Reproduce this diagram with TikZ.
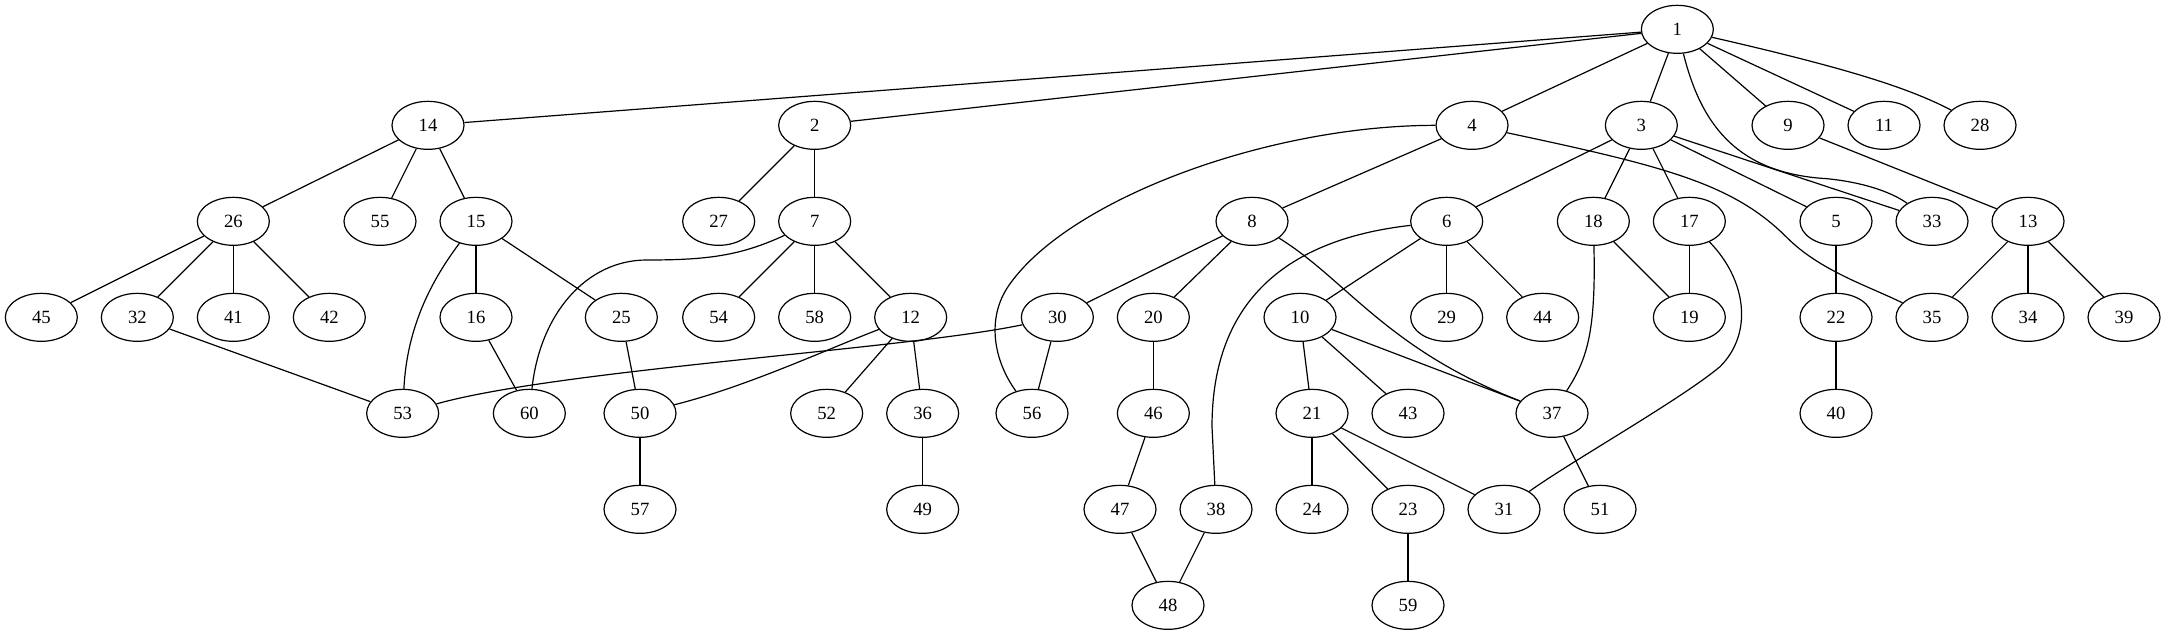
\documentclass[tikz,border=0pt]{standalone}
\usepackage{fontspec}
\setmainfont{Liberation Serif}
\usetikzlibrary{shapes.geometric}
\tikzset{
  nd/.style={draw, ellipse, line width=0.9pt, minimum width=54pt, minimum height=36pt, inner sep=0pt, font=\fontsize{14}{16}\selectfont},
  ed/.style={line width=0.9pt}
}
\begin{document}
\begin{tikzpicture}[x=1pt,y=1pt]
\fill[white] (0,0) rectangle (1623.75,-476.25);
\useasboundingbox (0,0) rectangle (1623.75,-476.25);
% rank 0
\node[nd] (n1) at (1258,-22) {1};
% rank 1
\node[nd] (n14) at (321,-94) {14};
\node[nd] (n2) at (611,-94) {2};
\node[nd] (n4) at (1104,-94) {4};
\node[nd] (n3) at (1231,-94) {3};
\node[nd] (n9) at (1341,-94) {9};
\node[nd] (n11) at (1413,-94) {11};
\node[nd] (n28) at (1485,-94) {28};
% rank 2
\node[nd] (n26) at (175,-166) {26};
\node[nd] (n55) at (285,-166) {55};
\node[nd] (n15) at (357,-166) {15};
\node[nd] (n27) at (539,-166) {27};
\node[nd] (n7) at (611,-166) {7};
\node[nd] (n8) at (939,-166) {8};
\node[nd] (n6) at (1085,-166) {6};
\node[nd] (n18) at (1195,-166) {18};
\node[nd] (n17) at (1267,-166) {17};
\node[nd] (n5) at (1377,-166) {5};
\node[nd] (n33) at (1449,-166) {33};
\node[nd] (n13) at (1521,-166) {13};
% rank 3
\node[nd] (n45) at (31,-238) {45};
\node[nd] (n32) at (103,-238) {32};
\node[nd] (n41) at (175,-238) {41};
\node[nd] (n42) at (247,-238) {42};
\node[nd] (n16) at (357,-238) {16};
\node[nd] (n25) at (466,-238) {25};
\node[nd] (n54) at (539,-238) {54};
\node[nd] (n58) at (611,-238) {58};
\node[nd] (n12) at (683,-238) {12};
\node[nd] (n30) at (793,-238) {30};
\node[nd] (n20) at (865,-238) {20};
\node[nd] (n10) at (975,-238) {10};
\node[nd] (n29) at (1085,-238) {29};
\node[nd] (n44) at (1157,-238) {44};
\node[nd] (n19) at (1267,-238) {19};
\node[nd] (n22) at (1377,-238) {22};
\node[nd] (n35) at (1449,-238) {35};
\node[nd] (n34) at (1521,-238) {34};
\node[nd] (n39) at (1593,-238) {39};
% rank 4
\node[nd] (n53) at (302,-310) {53};
\node[nd] (n60) at (397,-310) {60};
\node[nd] (n50) at (480,-310) {50};
\node[nd] (n52) at (620,-310) {52};
\node[nd] (n36) at (692,-310) {36};
\node[nd] (n56) at (774,-310) {56};
\node[nd] (n46) at (865,-310) {46};
\node[nd] (n21) at (984,-310) {21};
\node[nd] (n43) at (1056,-310) {43};
\node[nd] (n37) at (1164,-310) {37};
\node[nd] (n40) at (1377,-310) {40};
% rank 5
\node[nd] (n57) at (480,-382) {57};
\node[nd] (n49) at (692,-382) {49};
\node[nd] (n47) at (840,-382) {47};
\node[nd] (n38) at (912,-382) {38};
\node[nd] (n24) at (984,-382) {24};
\node[nd] (n23) at (1056,-382) {23};
\node[nd] (n31) at (1128,-382) {31};
\node[nd] (n51) at (1200,-382) {51};
% rank 6
\node[nd] (n48) at (876,-454) {48};
\node[nd] (n59) at (1056,-454) {59};

% edges
\draw[ed] (n1) -- (n14);
\draw[ed] (n1) -- (n2);
\draw[ed] (n1) -- (n4);
\draw[ed] (n1) -- (n3);
\draw[ed] (n1) -- (n9);
\draw[ed] (n1) -- (n11);
\draw[ed] (n1) .. controls (1380,-50) and (1430,-65) .. (n28);
\draw[ed] (n1) .. controls (1275,-90) and (1300,-130) .. (1370,-134) .. controls (1400,-137) and (1420,-145) .. (n33);
\draw[ed] (n14) -- (n26);
\draw[ed] (n14) -- (n55);
\draw[ed] (n14) -- (n15);
\draw[ed] (n2) -- (n27);
\draw[ed] (n2) -- (n7);
\draw[ed] (n4) -- (n8);
\draw[ed] (n4) .. controls (950,-94) and (800,-150) .. (756,-215) .. controls (740,-239) and (745,-270) .. (n56);
\draw[ed] (n4) .. controls (1250,-125) and (1300,-138) .. (1340,-178) .. controls (1365,-203) and (1400,-214) .. (n35);
\draw[ed] (n3) -- (n6);
\draw[ed] (n3) -- (n18);
\draw[ed] (n3) -- (n17);
\draw[ed] (n3) -- (n5);
\draw[ed] (n3) -- (n33);
\draw[ed] (n9) -- (n13);
\draw[ed] (n26) -- (n45);
\draw[ed] (n26) -- (n32);
\draw[ed] (n26) -- (n41);
\draw[ed] (n26) -- (n42);
\draw[ed] (n15) -- (n16);
\draw[ed] (n15) -- (n25);
\draw[ed] (n15) .. controls (320,-215) and (305,-250) .. (n53);
\draw[ed] (n7) .. controls (555,-192) and (530,-195) .. (485,-195) .. controls (440,-195) and (405,-235) .. (n60);
\draw[ed] (n7) -- (n54);
\draw[ed] (n7) -- (n58);
\draw[ed] (n7) -- (n12);
\draw[ed] (n8) -- (n30);
\draw[ed] (n8) -- (n20);
\draw[ed] (n8) .. controls (1010,-210) and (1040,-262) .. (n37);
\draw[ed] (n6) -- (n10);
\draw[ed] (n6) -- (n29);
\draw[ed] (n6) -- (n44);
\draw[ed] (n6) .. controls (960,-180) and (909,-230) .. (909,-320) -- (n38);
\draw[ed] (n18) -- (n19);
\draw[ed] (n18) .. controls (1197,-250) and (1190,-270) .. (n37);
\draw[ed] (n17) -- (n19);
\draw[ed] (n17) .. controls (1310,-210) and (1315,-250) .. (1290,-275) .. controls (1260,-300) and (1180,-345) .. (n31);
\draw[ed] (n5) -- (n22);
\draw[ed] (n13) -- (n35);
\draw[ed] (n13) -- (n34);
\draw[ed] (n13) -- (n39);
\draw[ed] (n32) -- (n53);
\draw[ed] (n16) -- (n60);
\draw[ed] (n25) -- (n50);
\draw[ed] (n12) .. controls (620,-262) and (560,-290) .. (n50);
\draw[ed] (n12) -- (n52);
\draw[ed] (n12) -- (n36);
\draw[ed] (n30) .. controls (680,-262) and (420,-277) .. (n53);
\draw[ed] (n30) -- (n56);
\draw[ed] (n20) -- (n46);
\draw[ed] (n10) -- (n21);
\draw[ed] (n10) -- (n43);
\draw[ed] (n10) -- (n37);
\draw[ed] (n22) -- (n40);
\draw[ed] (n50) -- (n57);
\draw[ed] (n36) -- (n49);
\draw[ed] (n46) -- (n47);
\draw[ed] (n21) -- (n24);
\draw[ed] (n21) -- (n23);
\draw[ed] (n21) -- (n31);
\draw[ed] (n37) -- (n51);
\draw[ed] (n47) -- (n48);
\draw[ed] (n38) -- (n48);
\draw[ed] (n23) -- (n59);
\end{tikzpicture}
\end{document}
